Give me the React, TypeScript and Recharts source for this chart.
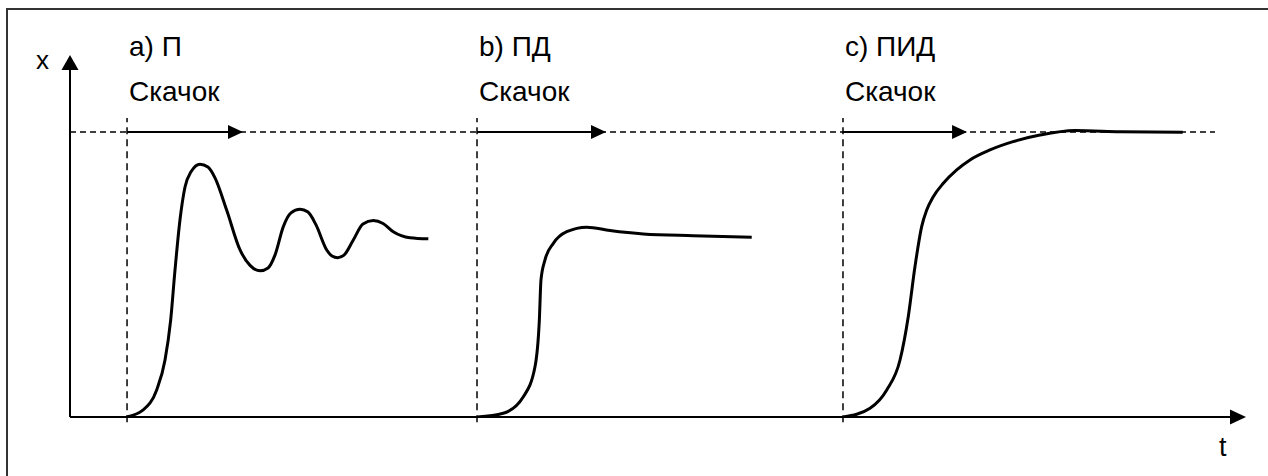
import { ComposedChart, Line, ReferenceLine, XAxis, YAxis } from "recharts";

const WIDTH = 1268;
const HEIGHT = 476;
const FONT = '"Liberation Sans", Arial, sans-serif';

// time of the setpoint step for each controller (a, b, c)
const stepTimes = [4.85, 34.61, 65.73];
const stepArrowEnds = [14.71, 45.58, 76.28];
const stepTitles = ["a) П", "b) ПД", "c) ПИД"];
const stepCaption = "Скачок";
const setpoint = 1;
const setpointEnd = 97.36;
const stepLineTop = 1.049;

// step responses, x normalised to the setpoint
const curveP = [
  { t: 4.82, x: 0 },
  { t: 6.23, x: 0.025 },
  { t: 7.37, x: 0.095 },
  { t: 8.08, x: 0.2 },
  { t: 8.56, x: 0.34 },
  { t: 8.93, x: 0.516 },
  { t: 9.35, x: 0.691 },
  { t: 9.78, x: 0.807 },
  { t: 10.29, x: 0.86 },
  { t: 11.05, x: 0.887 },
  { t: 11.73, x: 0.877 },
  { t: 12.33, x: 0.839 },
  { t: 13.32, x: 0.726 },
  { t: 14.46, x: 0.586 },
  { t: 15.31, x: 0.532 },
  { t: 16.16, x: 0.513 },
  { t: 16.84, x: 0.523 },
  { t: 17.43, x: 0.568 },
  { t: 18.14, x: 0.668 },
  { t: 18.79, x: 0.716 },
  { t: 19.56, x: 0.729 },
  { t: 20.24, x: 0.719 },
  { t: 20.92, x: 0.674 },
  { t: 21.83, x: 0.586 },
  { t: 22.28, x: 0.565 },
  { t: 22.76, x: 0.559 },
  { t: 23.3, x: 0.568 },
  { t: 24.09, x: 0.621 },
  { t: 24.91, x: 0.677 },
  { t: 25.79, x: 0.689 },
  { t: 26.62, x: 0.679 },
  { t: 27.49, x: 0.65 },
  { t: 28.91, x: 0.629 },
  { t: 30.47, x: 0.625 },
];

const curvePD = [
  { t: 34.63, x: 0 },
  { t: 36.84, x: 0.013 },
  { t: 38.55, x: 0.071 },
  { t: 39.54, x: 0.176 },
  { t: 39.91, x: 0.34 },
  { t: 40.05, x: 0.481 },
  { t: 40.39, x: 0.551 },
  { t: 41.1, x: 0.609 },
  { t: 42.24, x: 0.65 },
  { t: 43.94, x: 0.666 },
  { t: 45.92, x: 0.654 },
  { t: 48.75, x: 0.642 },
  { t: 53.0, x: 0.636 },
  { t: 57.97, x: 0.631 },
];

const curvePID = [
  { t: 65.76, x: 0 },
  { t: 68.03, x: 0.031 },
  { t: 69.45, x: 0.095 },
  { t: 70.58, x: 0.2 },
  { t: 71.28, x: 0.352 },
  { t: 71.85, x: 0.527 },
  { t: 72.42, x: 0.668 },
  { t: 72.85, x: 0.726 },
  { t: 73.41, x: 0.773 },
  { t: 74.26, x: 0.82 },
  { t: 75.4, x: 0.867 },
  { t: 76.53, x: 0.902 },
  { t: 78.23, x: 0.937 },
  { t: 80.19, x: 0.966 },
  { t: 82.48, x: 0.989 },
  { t: 85.46, x: 1.005 },
  { t: 89.29, x: 1.001 },
  { t: 94.62, x: 0.999 },
];

const X_MAX = 100;
const Y_MAX = 1.27;

/** line with a filled triangular head at (x2, y2) */
function ArrowLine(props: any) {
  const { x1, y1, x2, y2 } = props;
  const headLen = props.headLen ?? 15;
  const half = props.headHalf ?? 7.5;
  const stroke = props.stroke ?? "#000";
  const angle = Math.atan2(y2 - y1, x2 - x1);
  const cos = Math.cos(angle);
  const sin = Math.sin(angle);
  const bx = x2 - headLen * cos;
  const by = y2 - headLen * sin;
  const pts = `${x2},${y2} ${bx - half * sin},${by + half * cos} ${bx + half * sin},${by - half * cos}`;
  return (
    <g>
      <line x1={x1} y1={y1} x2={bx} y2={by} stroke={stroke} strokeWidth={props.strokeWidth} />
      <polygon points={pts} fill={stroke} />
    </g>
  );
}

function stepLabel(title: string) {
  return (props: any) => {
    const vb = props.viewBox ?? {};
    const x = (vb.x ?? 0) + 2;
    const top = vb.y ?? 0;
    return (
      <g fontFamily={FONT} fontSize={28} fill="#000">
        <text x={x} y={top - 62}>{title}</text>
        <text x={x} y={top - 17}>{stepCaption}</text>
      </g>
    );
  };
}

export default function App() {
  return (
    <div style={{ position: "fixed", left: 0, top: 0, width: WIDTH, height: HEIGHT, background: "#fff", overflow: "hidden" }}>
      <div
        style={{
          position: "absolute",
          left: 6,
          top: 8,
          width: WIDTH + 40,
          height: HEIGHT + 40,
          border: "2px solid #333",
          boxSizing: "border-box",
        }}
      />
      <div style={{ position: "absolute", left: 0, top: 0 }}>
        <ComposedChart width={WIDTH} height={HEIGHT} margin={{ top: 55, right: 22, bottom: 59, left: 70 }}>
          <XAxis dataKey="t" type="number" domain={[0, X_MAX]} hide allowDataOverflow />
          <YAxis type="number" domain={[0, Y_MAX]} hide allowDataOverflow />

          {/* setpoint */}
          <ReferenceLine
            segment={[{ x: 0, y: setpoint }, { x: setpointEnd, y: setpoint }]}
            stroke="#000"
            strokeWidth={1.5}
            strokeDasharray="6 4"
            ifOverflow="visible"
          />

          {stepTimes.map((t, i) => (
            <ReferenceLine
              key={`step-${i}`}
              segment={[{ x: t, y: -0.018 }, { x: t, y: stepLineTop }]}
              stroke="#000"
              strokeWidth={1.5}
              strokeDasharray="7 5"
              ifOverflow="visible"
              label={{ content: stepLabel(stepTitles[i]) }}
            />
          ))}

          {stepTimes.map((t, i) => (
            <ReferenceLine
              key={`arrow-${i}`}
              segment={[{ x: t, y: setpoint }, { x: stepArrowEnds[i], y: setpoint }]}
              stroke="#000"
              strokeWidth={2}
              ifOverflow="visible"
              shape={(p: any) => <ArrowLine {...p} headLen={15} headHalf={7} />}
            />
          ))}

          <Line data={curveP} dataKey="x" type="monotone" dot={false} stroke="#000" strokeWidth={3} isAnimationActive={false} />
          <Line data={curvePD} dataKey="x" type="monotone" dot={false} stroke="#000" strokeWidth={3} isAnimationActive={false} />
          <Line data={curvePID} dataKey="x" type="monotone" dot={false} stroke="#000" strokeWidth={3} isAnimationActive={false} />

          {/* axes with arrow heads */}
          <ReferenceLine
            segment={[{ x: 0, y: 0 }, { x: X_MAX, y: 0 }]}
            stroke="#000"
            strokeWidth={2}
            ifOverflow="visible"
            shape={(p: any) => <ArrowLine {...p} headLen={16} headHalf={7.5} />}
            label={{
              content: (p: any) => (
                <text x={(p.viewBox?.x ?? 0) + (p.viewBox?.width ?? 0) - 27} y={(p.viewBox?.y ?? 0) + 39} fontFamily={FONT} fontSize={27}>
                  t
                </text>
              ),
            }}
          />
          <ReferenceLine
            segment={[{ x: 0, y: 0 }, { x: 0, y: Y_MAX }]}
            stroke="#000"
            strokeWidth={2}
            ifOverflow="visible"
            shape={(p: any) => <ArrowLine {...p} headLen={15} headHalf={8.5} />}
            label={{
              content: (p: any) => (
                <text x={(p.viewBox?.x ?? 0) - 34} y={(p.viewBox?.y ?? 0) + 14} fontFamily={FONT} fontSize={26}>
                  x
                </text>
              ),
            }}
          />
        </ComposedChart>
      </div>
    </div>
  );
}
